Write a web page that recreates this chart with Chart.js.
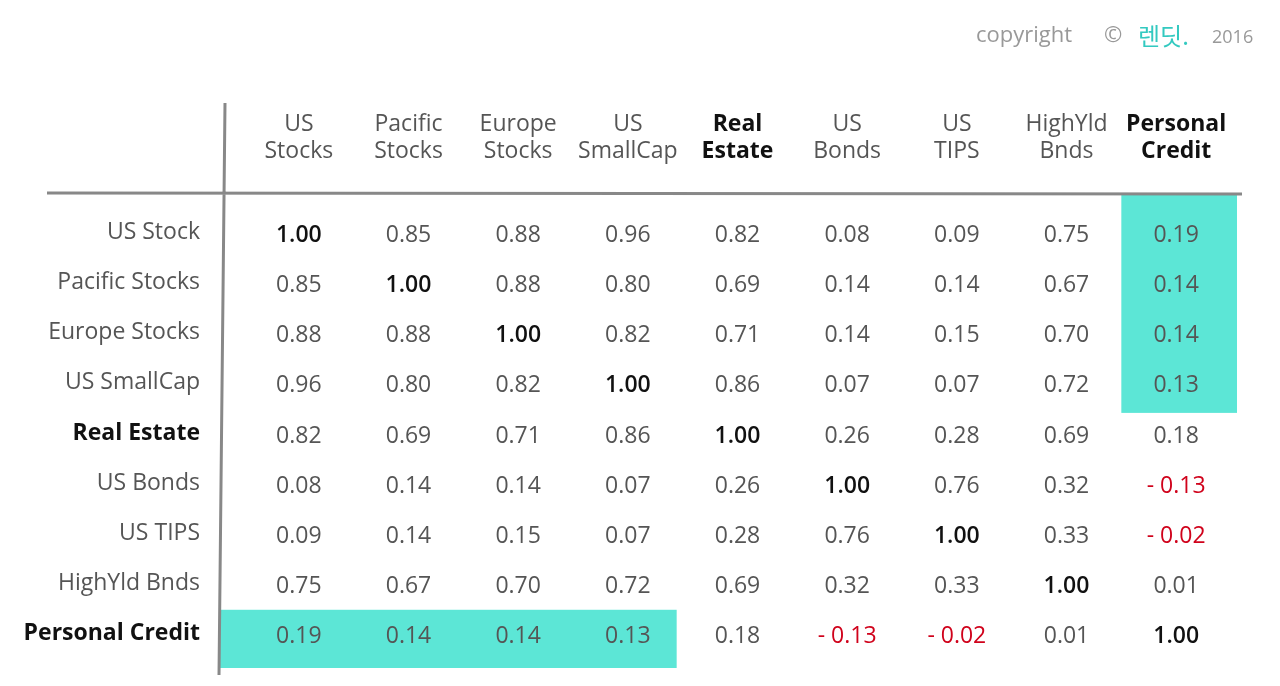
<!DOCTYPE html>
<html>
<head>
<meta charset="utf-8">
<script src="https://cdn.jsdelivr.net/npm/chart.js@4"></script>
<style>
  html, body { margin: 0; padding: 0; background: #fff; }
  #wrap { width: 1280px; height: 686px; }
</style>
</head>
<body>
<div id="wrap"><canvas id="corr"></canvas></div>
<script>
// --- Data ---
const colLabels = [['US', 'Stocks'], ['Pacific', 'Stocks'], ['Europe', 'Stocks'], ['US', 'SmallCap'], ['Real', 'Estate'],
    ['US', 'Bonds'], ['US', 'TIPS'], ['HighYld', 'Bnds'], ['Personal', 'Credit']];
const rowLabels = ['US Stock', 'Pacific Stocks', 'Europe Stocks', 'US SmallCap', 'Real Estate',
    'US Bonds', 'US TIPS', 'HighYld Bnds', 'Personal Credit'];
const boldIdx = [4, 8];
const matrix = [
    [1.00, 0.85, 0.88, 0.96, 0.82, 0.08, 0.09, 0.75, 0.19],
    [0.85, 1.00, 0.88, 0.80, 0.69, 0.14, 0.14, 0.67, 0.14],
    [0.88, 0.88, 1.00, 0.82, 0.71, 0.14, 0.15, 0.70, 0.14],
    [0.96, 0.80, 0.82, 1.00, 0.86, 0.07, 0.07, 0.72, 0.13],
    [0.82, 0.69, 0.71, 0.86, 1.00, 0.26, 0.28, 0.69, 0.18],
    [0.08, 0.14, 0.14, 0.07, 0.26, 1.00, 0.76, 0.32, -0.13],
    [0.09, 0.14, 0.15, 0.07, 0.28, 0.76, 1.00, 0.33, -0.02],
    [0.75, 0.67, 0.70, 0.72, 0.69, 0.32, 0.33, 1.00, 0.01],
    [0.19, 0.14, 0.14, 0.13, 0.18, -0.13, -0.02, 0.01, 1.00]
];
// highlighted blocks: [row from, row to, col from, col to]
const highlights = [[0, 3, 8, 8], [8, 8, 0, 3]];

const FONT = '"Open Sans", "Noto Sans", sans-serif';
const cells = [];
matrix.forEach((row, r) => row.forEach((v, c) => cells.push({ x: c, y: r, v: v })));

// --- Plugin: table drawing ---
const tablePlugin = {
    id: 'table',
    beforeDatasetsDraw(chart) {
        const ctx = chart.ctx, xs = chart.scales.x, ys = chart.scales.y;
        const hw = (xs.getPixelForValue(1) - xs.getPixelForValue(0)) / 2;
        const hh = (ys.getPixelForValue(1) - ys.getPixelForValue(0)) / 2;
        ctx.save();
        ctx.fillStyle = '#5ce6d6';
        highlights.forEach(h => {
            const x0 = xs.getPixelForValue(h[2]) - hw - (h[2] === 0 ? 24 : 0);
            const x1 = xs.getPixelForValue(h[3]) + hw + (h[2] === 0 ? -6 : 6);
            const y0 = ys.getPixelForValue(h[0]) - hh - (h[0] === 0 ? 15 : 2);
            const y1 = ys.getPixelForValue(h[1]) + hh + (h[0] === 0 ? 2 : 6);
            ctx.fillRect(x0, y0, x1 - x0, y1 - y0);
        });
        // grid lines
        ctx.strokeStyle = '#888';
        ctx.lineWidth = 3;
        ctx.beginPath();
        ctx.moveTo(47, 193); ctx.lineTo(1242, 194);
        ctx.moveTo(225, 103); ctx.lineTo(219, 675);
        ctx.stroke();
        ctx.restore();
    },
    afterDatasetsDraw(chart) {
        const ctx = chart.ctx, xs = chart.scales.x, ys = chart.scales.y;
        const meta = chart.getDatasetMeta(0);
        ctx.save();
        ctx.textBaseline = 'middle';
        ctx.textAlign = 'center';
        meta.data.forEach((pt, i) => {
            const d = cells[i];
            const diag = d.x === d.y;
            ctx.font = (diag ? '600 ' : '') + '23px ' + FONT;
            ctx.fillStyle = diag ? '#111' : (d.v < 0 ? '#d0021b' : '#555');
            const txt = d.v < 0 ? '- ' + Math.abs(d.v).toFixed(2) : d.v.toFixed(2);
            ctx.fillText(txt, pt.x, pt.y);
        });
        // column headers
        colLabels.forEach((lbl, c) => {
            const b = boldIdx.includes(c);
            ctx.font = (b ? 'bold ' : '') + '23px ' + FONT;
            ctx.fillStyle = b ? '#111' : '#555';
            lbl.forEach((line, k) => ctx.fillText(line, xs.getPixelForValue(c), 124 + k * 27));
        });
        // row headers
        ctx.textAlign = 'right';
        rowLabels.forEach((lbl, r) => {
            const b = boldIdx.includes(r);
            ctx.font = (b ? 'bold ' : '') + '23px ' + FONT;
            ctx.fillStyle = b ? '#111' : '#555';
            ctx.fillText(lbl, 200, ys.getPixelForValue(r) - 3);
        });
        // copyright
        ctx.textAlign = 'left';
        ctx.font = '22px ' + FONT;
        ctx.fillStyle = '#999';
        ctx.fillText('copyright', 976, 36);
        ctx.fillText('©', 1104, 36);
        ctx.fillStyle = '#33c9c0';
        ctx.font = '24px "Noto Sans CJK KR", sans-serif';
        ctx.fillText('렌딧.', 1138, 36);
        ctx.fillStyle = '#999';
        ctx.font = '18px ' + FONT;
        ctx.fillText('2016', 1212, 38);
        ctx.restore();
    }
};

new Chart(document.getElementById('corr'), {
    type: 'scatter',
    data: {
        datasets: [{
            data: cells,
            pointRadius: 0,
            pointHoverRadius: 0
        }]
    },
    options: {
        responsive: true,
        maintainAspectRatio: false,
        animation: false,
        layout: { padding: { left: 244, right: 49, top: 210, bottom: 24 } },
        plugins: { legend: { display: false }, tooltip: { enabled: false } },
        scales: {
            x: { type: 'linear', min: -0.5, max: 8.5, display: false },
            y: { type: 'linear', min: -0.5, max: 8.5, reverse: true, display: false }
        }
    },
    plugins: [tablePlugin]
});
</script>
</body>
</html>
